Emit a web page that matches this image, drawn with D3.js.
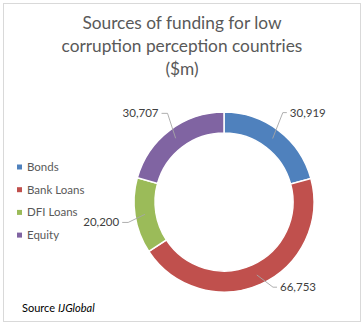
<!DOCTYPE html>
<html><head><meta charset="utf-8">
<script src="https://cdn.jsdelivr.net/npm/d3@7/dist/d3.min.js"></script>
<style>body{margin:0;background:#fff}svg{display:block}text{font-family:Lato,"Open Sans",sans-serif}</style>
</head><body>
<svg id="c" width="364" height="325"></svg>
<script>
const categories = ["Bonds","Bank Loans","DFI Loans","Equity"];
const values = [30919,66753,20200,30707];
const valueLabels = ["30,919","66,753","20,200","30,707"];
const titleLines = ["Sources of funding for low","corruption perception countries","($m)"];
const colors = ["#4F81BD","#C0504D","#9BBB59","#8064A2"];
const labelNudge = [[-2,-10],[8,-6],[3,5],[4,-9]];

const svg = d3.select("#c");
svg.append("rect").attr("x",3.5).attr("y",3.5).attr("width",357).attr("height",318)
  .attr("fill","#fff").attr("stroke","#d9d9d9");

// Title
const tg = svg.append("g");
const tEls = titleLines.map((t,i)=> tg.append("text").attr("x",182).attr("y",29+i*23)
  .attr("text-anchor","middle").attr("fill","#595959").style("font-size","18px").text(t));
const w2 = tEls[1].node().getComputedTextLength();
const fs = 18*241/w2;
tEls.forEach(e=>e.style("font-size",fs+"px"));

const cx=224, cy=202, rOut=90, rIn=69;
const pie = d3.pie().sort(null).value(d=>d)(values);
const arc = d3.arc().innerRadius(rIn).outerRadius(rOut);
const g = svg.append("g").attr("transform",`translate(${cx},${cy})`);
g.selectAll("path").data(pie).enter().append("path")
  .attr("d",arc).attr("fill",(d,i)=>colors[i]).attr("stroke","#fff").attr("stroke-width",1.5);

// Labels
pie.forEach((d,i)=>{
  const a=(d.startAngle+d.endAngle)/2;
  const sx=80*Math.sin(a), sy=-80*Math.cos(a);
  const ex=100*Math.sin(a)+labelNudge[i][0], ey=-100*Math.cos(a)+labelNudge[i][1];
  const right = Math.sin(a)>0;
  const hx = ex + (right?4:-6);
  g.append("polyline").attr("points",`${sx},${sy} ${ex},${ey} ${hx},${ey}`)
    .attr("fill","none").attr("stroke","#a6a6a6").attr("stroke-width",0.9);
  g.append("text").attr("x",hx+(right?3:-3)).attr("y",ey+4)
    .attr("text-anchor",right?"start":"end").attr("fill","#404040").style("font-size","11.5px")
    .text(valueLabels[i]);
});

// Legend
const lg = svg.append("g");
categories.forEach((c,i)=>{
  const y=167+i*22.7;
  lg.append("rect").attr("x",17).attr("y",y-2.5).attr("width",5).attr("height",5).attr("fill",colors[i]);
  lg.append("text").attr("x",27).attr("y",y+4).attr("fill","#595959").style("font-size","11.5px").text(c);
});

// Source
const st = svg.append("text").attr("x",22).attr("y",312).attr("fill","#000").style("font-size","11px");
st.append("tspan").text("Source ");
st.append("tspan").style("font-style","italic").text("IJGlobal");
</script>
</body></html>
